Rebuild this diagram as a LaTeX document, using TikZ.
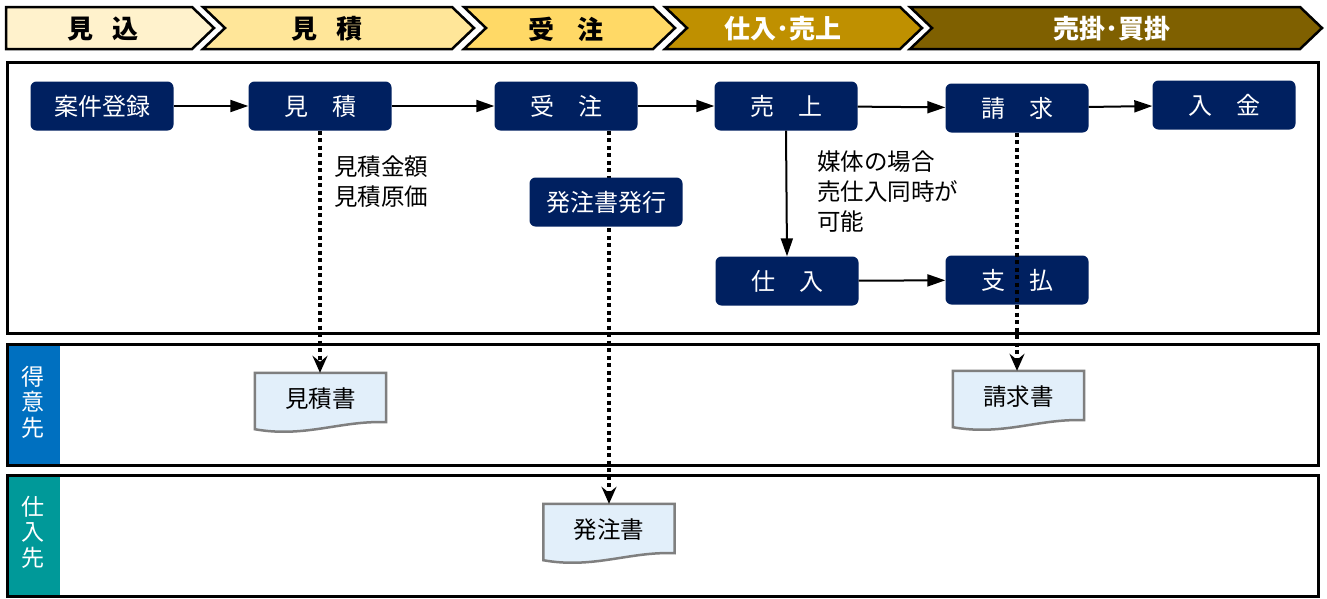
\documentclass[tikz,border=0pt]{standalone}
\usepackage{fontspec}
\setmainfont{Noto Sans CJK JP}
\usetikzlibrary{arrows.meta,calc}
\pgfdeclarelayer{background}
\pgfsetlayers{background,main}
\definecolor{navy}{HTML}{002060}
\definecolor{chA}{HTML}{FFF2CC}
\definecolor{chB}{HTML}{FFE699}
\definecolor{chC}{HTML}{FFD966}
\definecolor{chD}{HTML}{BF9000}
\definecolor{chE}{HTML}{7F6000}
\definecolor{laneblue}{HTML}{0070C0}
\definecolor{laneteal}{HTML}{009999}
\definecolor{docgray}{HTML}{7F7F7F}
\definecolor{docfill}{HTML}{E2EFFA}
\tikzset{
  chev/.style={draw=black, line width=2.5pt, line join=miter},
  chevtext/.style={font=\fontsize{26}{30}\selectfont\bfseries, inner sep=0pt},
  lane/.style={draw=black, line width=3pt},
  proc/.style={rounded corners=6pt, fill=navy, text=white, minimum width=143pt,
    minimum height=49pt, inner sep=0pt, font=\fontsize{24}{28}\selectfont},
  lbl/.style={align=left, inner sep=0pt, font=\fontsize{23.5}{30}\selectfont},
  lanelbl/.style={align=center, inner sep=0pt, text=white, font=\fontsize{23}{25.5}\selectfont},
  doc/.style={minimum width=131pt, minimum height=52pt, inner sep=0pt,
    font=\fontsize{23.5}{28}\selectfont},
  flow/.style={line width=2pt, -{Triangle[length=18pt,width=12pt]}},
  dotflow/.style={line width=4pt, dash pattern=on 4pt off 3.5pt,
    -{Stealth[length=17pt,width=15pt,inset=6pt]}},
}
\newcommand\docshape[1]{%
  \begin{pgfonlayer}{background}
  \draw[line width=2.5pt, draw=docgray, fill=docfill]
    (#1.north west) -- (#1.north east) -- ($(#1.south east)+(0,-3)$)
    .. controls +(-45,-2) and +(50,9) .. ($(#1.south west)+(0,4)$) -- cycle;
  \end{pgfonlayer}}
\begin{document}
\begin{tikzpicture}[x=1pt,y=-1pt]
\useasboundingbox (0,0) rectangle (1327,598);
\begin{pgfonlayer}{background}
\fill[white] (0,0) rectangle (1327,598);
\end{pgfonlayer}

% phase chevrons
\draw[chev, fill=chA] (6,7) -- (192,7) -- (214,28) -- (192,49) -- (6,49) -- cycle;
\draw[chev, fill=chB] (203,7) -- (452,7) -- (474,28) -- (452,49) -- (203,49) -- (225,28) -- cycle;
\draw[chev, fill=chC] (464,7) -- (653,7) -- (675,28) -- (653,49) -- (464,49) -- (486,28) -- cycle;
\draw[chev, fill=chD] (665,7) -- (900,7) -- (922,28) -- (900,49) -- (665,49) -- (687,28) -- cycle;
\draw[chev, fill=chE] (910,7) -- (1300,7) -- (1322,28) -- (1300,49) -- (910,49) -- (932,28) -- cycle;
\node[chevtext] (ph1) at (103,29) {見\hspace{0.7em}込};
\node[chevtext] (ph2) at (327,29) {見\hspace{0.7em}積};
\node[chevtext] (ph3) at (566,29) {受\hspace{0.85em}注};
\node[chevtext, text=white] (ph4) at (783,29) {仕入･売上};
\node[chevtext, text=white] (ph5) at (1112,29) {売掛･買掛};

% lanes
\draw[lane] (7,62) rectangle (1318,333);
\fill[laneblue] (7,344) rectangle (60,465);
\draw[lane] (7,344) rectangle (1318,465);
\fill[laneteal] (7,475) rectangle (60,596);
\draw[lane] (7,475) rectangle (1318,596);
\node[lanelbl] (tokui) at (33,402) {得\\意\\先};
\node[lanelbl] (shiiresaki) at (33,532) {仕\\入\\先};

% process boxes
\node[proc] (anken) at (102,106) {案件登録};
\node[proc] (mitsu) at (320,106) {見　積};
\node[proc] (juchu) at (566,106) {受　注};
\node[proc] (uriage) at (786,106) {売　上};
\node[proc] (seikyu) at (1017,108) {請　求};
\node[proc] (nyukin) at (1224,105) {入　金};
\node[proc, minimum width=153pt] (hakko) at (606,202) {発注書発行};
\node[proc] (shiire) at (787,281) {仕　入};
\node[proc] (shiharai) at (1017,280) {支　払};

% notes
\node[lbl, anchor=west] (mnote) at (334,182) {見積金額\\見積原価};
\node[lbl, anchor=west] (unote) at (817,192) {媒体の場合\\売仕入同時が\\可能};

% documents
\node[doc] (mdoc) at (320.5,399) {見積書};
\docshape{mdoc}
\node[doc] (hdoc) at (609,530) {発注書};
\docshape{hdoc}
\node[doc] (sdoc) at (1018.5,397) {請求書};
\docshape{sdoc}

% solid flows
\draw[flow] (anken) -- (mitsu);
\draw[flow] (mitsu) -- (juchu);
\draw[flow] (juchu) -- (uriage);
\draw[flow] (uriage) -- (seikyu);
\draw[flow] (seikyu) -- (nyukin);
\draw[flow] (uriage.south) -- (shiire.north);
\draw[flow] (shiire) -- (shiharai);

% dotted document flows
\draw[dotflow] (mitsu.south) -- (mitsu.south |- mdoc.north);
\begin{pgfonlayer}{background}
\draw[dotflow] (juchu.south -| hdoc.north) -- (hdoc.north);
\end{pgfonlayer}
\draw[dotflow] (seikyu.south) -- (seikyu.south |- sdoc.north);
\end{tikzpicture}
\end{document}
